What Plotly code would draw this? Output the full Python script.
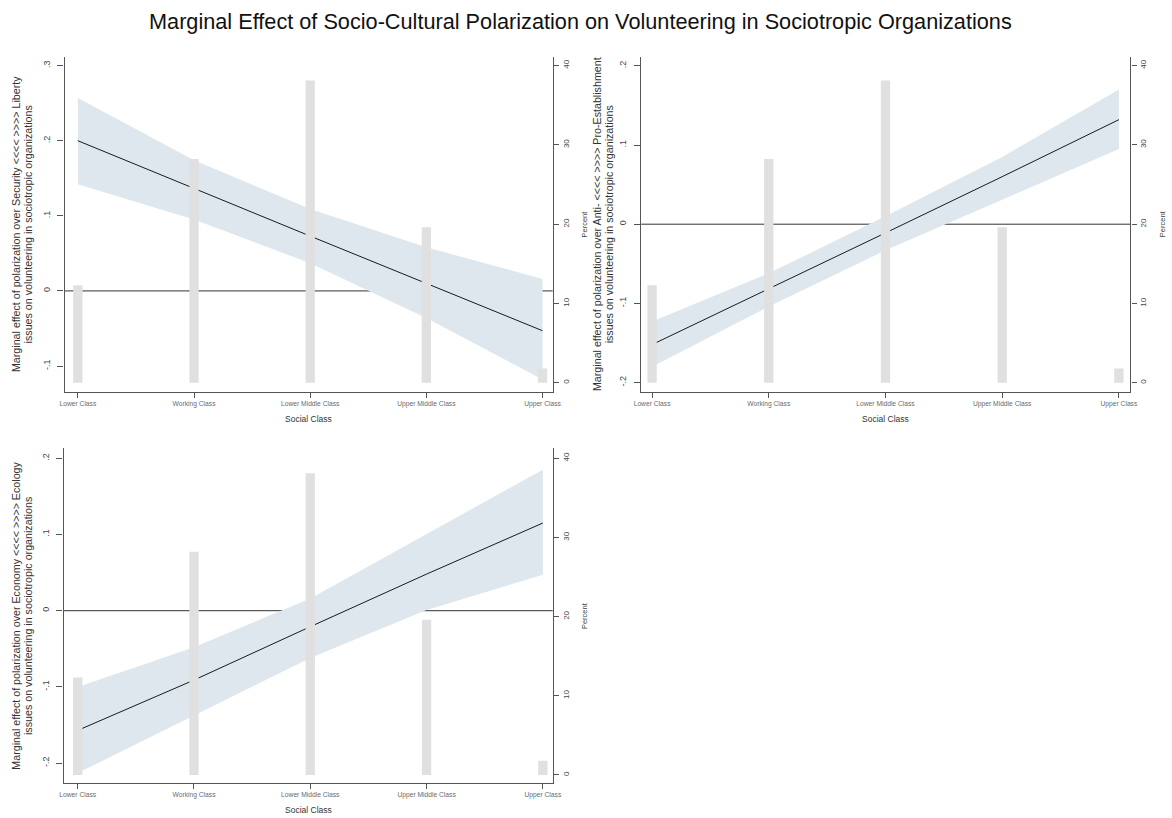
import plotly.graph_objects as go

W, H = 1172, 818

# Categories on the x axis
classes = ["Lower Class", "Working Class", "Lower Middle Class", "Upper Middle Class", "Upper Class"]
xpos = [1, 2, 3, 4, 5]

# Share of respondents in each social class (percent, right axis)
percent = [12.3, 28.2, 38.1, 19.6, 1.8]

# Panel 1: Security <<<< >>>> Liberty
me_sec = [0.200, 0.136, 0.073, 0.010, -0.053]
lo_sec = [0.142, 0.095, 0.037, -0.036, -0.118]
hi_sec = [0.257, 0.174, 0.109, 0.058, 0.016]

# Panel 2: Anti- <<<< >>>> Pro-Establishment
me_est = [-0.152, -0.082, -0.011, 0.060, 0.132]
lo_est = [-0.180, -0.104, -0.033, 0.031, 0.095]
hi_est = [-0.123, -0.062, 0.010, 0.085, 0.170]

# Panel 3: Economy <<<< >>>> Ecology
me_eco = [-0.157, -0.091, -0.021, 0.048, 0.115]
lo_eco = [-0.213, -0.137, -0.062, 0.001, 0.047]
hi_eco = [-0.100, -0.048, 0.016, 0.100, 0.185]

left_ticks_1 = [-0.1, 0, 0.1, 0.2, 0.3]
left_text_1 = ["-.1", "0", ".1", ".2", ".3"]
left_ticks_23 = [-0.2, -0.1, 0, 0.1, 0.2]
left_text_23 = ["-.2", "-.1", "0", ".1", ".2"]
pct_ticks = [0, 10, 20, 30, 40]

ytitle_first = [
    "Marginal effect of polarization over Security <<<< >>>> Liberty",
    "Marginal effect of polarization over Anti- <<<< >>>> Pro-Establishment",
    "Marginal effect of polarization over Economy <<<< >>>> Ecology",
]
ytitle_second = "issues on volunteering in sociotropic organizations"

BAND = "#dee7ed"
BAR = "#e0e0e0"
AXIS = "#555555"
FONT = "Liberation Sans, Arial, sans-serif"


def fx(px):
    return px / W


def fy(py):
    return 1 - py / H


# plot-area boxes in pixels: (left, right, top, bottom)
boxes = [(58.3, 553.3, 56.7, 391.7), (643.0, 1139.0, 56.7, 391.7), (57.3, 553.3, 448.3, 783.3)]
xranges = [[0.885, 5.088], [0.907, 5.099], [0.878, 5.085]]
yranges = [[-0.1342, 0.3119], [-0.2115, 0.2115], [-0.2264, 0.2130]]
pranges = [[-1.13, 41.11], [-1.13, 41.11], [-1.05, 41.25]]
series = [(me_sec, lo_sec, hi_sec), (me_est, lo_est, hi_est), (me_eco, lo_eco, hi_eco)]
lticks = [(left_ticks_1, left_text_1), (left_ticks_23, left_text_23), (left_ticks_23, left_text_23)]
ytitle_x_px = [9, 598, 9]

fig = go.Figure()
layout = dict(
    width=W, height=H, margin=dict(l=0, r=0, t=0, b=0),
    paper_bgcolor="white", plot_bgcolor="white", showlegend=False,
    font=dict(family=FONT, color="#333333"),
)
annotations = []
shapes = []

for i in range(3):
    n = i + 1
    xa = "x" if n == 1 else f"x{n}"
    lname = "y" if i == 0 else f"y{2 * i + 1}"
    rname = f"y{2 * i + 2}"
    me, lo, hi = series[i]
    L, R, T, B = boxes[i]

    # confidence band
    fig.add_trace(go.Scatter(
        x=xpos + xpos[::-1], y=hi + lo[::-1], fill="toself", fillcolor=BAND,
        line=dict(width=0), mode="lines", hoverinfo="skip",
        xaxis=xa, yaxis=lname,
    ))
    # marginal effect line
    fig.add_trace(go.Scatter(
        x=xpos, y=me, mode="lines", line=dict(color="#1a1a1a", width=1),
        xaxis=xa, yaxis=lname,
    ))
    # distribution of social class
    fig.add_trace(go.Bar(
        x=xpos, y=percent, width=0.08, marker=dict(color=BAR, line=dict(width=0)),
        xaxis=xa, yaxis=rname,
    ))

    xkey = "xaxis" if n == 1 else f"xaxis{n}"
    lkey = "yaxis" if i == 0 else f"yaxis{2 * i + 1}"
    rkey = f"yaxis{2 * i + 2}"

    layout[xkey] = dict(
        domain=[fx(L), fx(R)], anchor=lname, range=xranges[i],
        tickmode="array", tickvals=xpos, ticktext=classes,
        tickfont=dict(size=6.7, color="#6a6a6a"),
        ticks="outside", ticklen=5, tickcolor=AXIS, tickwidth=1,
        showline=True, linecolor=AXIS, linewidth=1.3,
        showgrid=False, zeroline=False, fixedrange=True,
    )
    layout[lkey] = dict(
        domain=[fy(B), fy(T)], anchor=xa, range=yranges[i],
        tickmode="array", tickvals=lticks[i][0], ticktext=lticks[i][1],
        tickangle=-90, tickfont=dict(size=9, color="#444444"),
        ticks="outside", ticklen=6, tickcolor=AXIS, tickwidth=1,
        ticklabelstandoff=4,
        showline=True, linecolor=AXIS, linewidth=1.3,
        showgrid=False, zeroline=False, fixedrange=True,
    )
    layout[rkey] = dict(
        overlaying=lname, side="right", anchor=xa, range=pranges[i],
        tickmode="array", tickvals=pct_ticks, ticktext=[str(t) for t in pct_ticks],
        tickangle=-90, tickfont=dict(size=8, color="#444444"),
        ticks="outside", ticklen=5, tickcolor=AXIS, tickwidth=1,
        showline=True, linecolor=AXIS, linewidth=1.3,
        showgrid=False, zeroline=False, fixedrange=True,
    )

    # reference line at zero, beneath the band
    shapes.append(dict(
        type="line", xref=f"{xa} domain", yref=lname, x0=0, x1=1, y0=0, y1=0,
        line=dict(color="#333333", width=1), layer="below",
    ))

    mid_y = (T + B) / 2
    for k, txt in enumerate([ytitle_first[i], ytitle_second]):
        annotations.append(dict(
            text=txt, textangle=-90, x=fx(ytitle_x_px[i] + 12.5 * k), y=fy(mid_y),
            xref="paper", yref="paper", showarrow=False, xanchor="center", yanchor="middle",
            font=dict(size=10.7, color="#333333"),
        ))
    annotations.append(dict(
        text="Percent", textangle=-90, x=fx(R + 32), y=fy(mid_y),
        xref="paper", yref="paper", showarrow=False, xanchor="center", yanchor="middle",
        font=dict(size=7.5, color="#444444"),
    ))
    annotations.append(dict(
        text="Social Class", x=fx((L + R) / 2), y=fy(B + 27),
        xref="paper", yref="paper", showarrow=False, xanchor="center", yanchor="middle",
        font=dict(size=8.5, color="#333333"),
    ))

annotations.append(dict(
    text="Marginal Effect of Socio-Cultural Polarization on Volunteering in Sociotropic Organizations",
    x=fx(581), y=fy(21), xref="paper", yref="paper", showarrow=False,
    xanchor="center", yanchor="middle", font=dict(size=21.7, color="#111111"),
))

layout["annotations"] = annotations
layout["shapes"] = shapes
fig.update_layout(**layout)
fig.write_html("out.html")
